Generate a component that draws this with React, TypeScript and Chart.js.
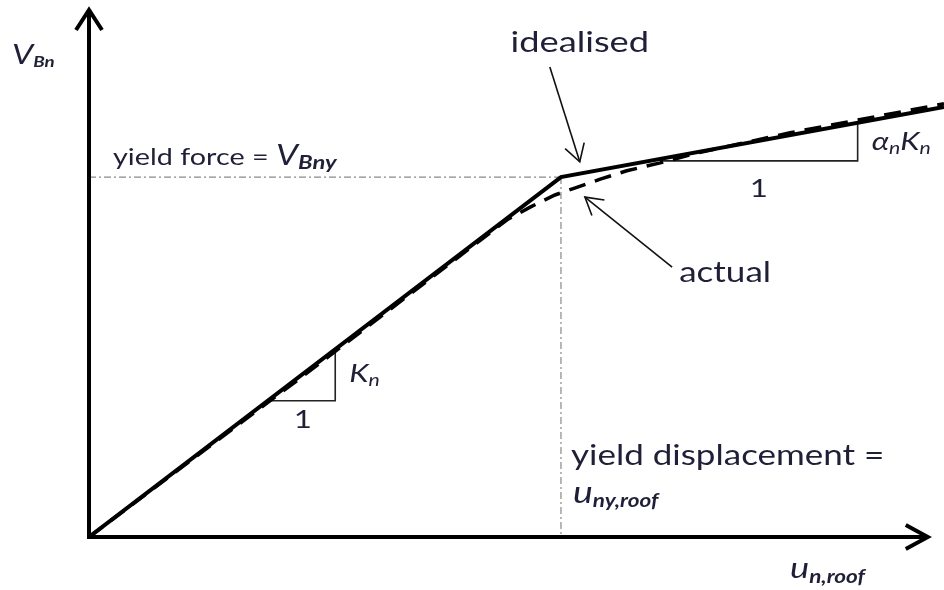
import { useEffect, useRef } from "react";
import { Chart, registerables } from "chart.js";

Chart.register(...registerables);

// Normalised roof displacement and base shear for the bilinear (idealised) curve
const idealDisp = [0, 0.552, 1.0];
const idealShear = [0, 0.683, 0.816];

// Normalised pushover curve (actual response)
const actualDisp = [0, 0.25, 0.489, 0.516, 0.545, 0.568, 0.598, 0.629, 0.668, 0.715, 0.82, 1.0];
const actualShear = [0, 0.305, 0.602, 0.626, 0.649, 0.662, 0.679, 0.695, 0.71, 0.73, 0.767, 0.822];

// Axis extents (arrow tips)
const axisEnd = { x: 0.981, y: 1.0 };

// Slope triangles: start of the horizontal leg and its run
const elasticTriangle = { x0: 0.212, run: 0.076 };
const hardeningTriangle = { x0: 0.668, run: 0.231 };

const INK = "#1f1f38";
const SANS = "Lato, 'Open Sans', sans-serif";
const STRETCH = 1.25;

type Run = { text: string; font: string; dy?: number };

function drawRuns(ctx: CanvasRenderingContext2D, x: number, y: number, runs: Run[], align: "left" | "center" = "left") {
  let total = 0;
  for (const r of runs) {
    ctx.font = r.font;
    total += ctx.measureText(r.text).width;
  }
  ctx.save();
  const start = align === "center" ? x - (total * STRETCH) / 2 : x;
  ctx.translate(start, y);
  ctx.scale(STRETCH, 1);
  ctx.textAlign = "left";
  ctx.textBaseline = "alphabetic";
  let cx = 0;
  for (const r of runs) {
    ctx.font = r.font;
    ctx.fillText(r.text, cx, r.dy || 0);
    cx += ctx.measureText(r.text).width;
  }
  ctx.restore();
}

function arrowHead(ctx: CanvasRenderingContext2D, x1: number, y1: number, x2: number, y2: number, len: number, half: number) {
  const a = Math.atan2(y2 - y1, x2 - x1);
  const bx = x2 - len * Math.cos(a);
  const by = y2 - len * Math.sin(a);
  const nx = -Math.sin(a) * half;
  const ny = Math.cos(a) * half;
  ctx.beginPath();
  ctx.moveTo(bx + nx, by + ny);
  ctx.lineTo(x2, y2);
  ctx.lineTo(bx - nx, by - ny);
  ctx.stroke();
}

function pointer(ctx: CanvasRenderingContext2D, x1: number, y1: number, x2: number, y2: number) {
  ctx.save();
  ctx.strokeStyle = "#111";
  ctx.lineWidth = 1.6;
  ctx.beginPath();
  ctx.moveTo(x1, y1);
  ctx.lineTo(x2, y2);
  ctx.stroke();
  arrowHead(ctx, x1, y1, x2, y2, 17, 10);
  ctx.restore();
}

const lineAt = (x: number) => {
  if (x <= idealDisp[1]) return (idealShear[1] / idealDisp[1]) * x;
  const k2 = (idealShear[2] - idealShear[1]) / (idealDisp[2] - idealDisp[1]);
  return idealShear[1] + k2 * (x - idealDisp[1]);
};

const diagramPlugin = {
  id: "diagram",
  beforeDatasetsDraw(chart: any) {
    const { ctx } = chart;
    const xs = chart.scales.x;
    const ys = chart.scales.y;
    const px = (v: number) => xs.getPixelForValue(v);
    const py = (v: number) => ys.getPixelForValue(v);
    const uy = idealDisp[1];
    const vy = idealShear[1];

    // yield reference lines
    ctx.save();
    ctx.strokeStyle = "#8a8a8a";
    ctx.lineWidth = 1.2;
    ctx.setLineDash([7, 3, 2, 3]);
    ctx.beginPath();
    ctx.moveTo(px(0), py(vy));
    ctx.lineTo(px(uy), py(vy));
    ctx.moveTo(px(uy), py(vy));
    ctx.lineTo(px(uy), py(0));
    ctx.stroke();
    ctx.restore();

    // slope triangles
    ctx.save();
    ctx.strokeStyle = "#222";
    ctx.lineWidth = 1.6;
    for (const t of [elasticTriangle, hardeningTriangle]) {
      const y0 = lineAt(t.x0);
      const x1 = t.x0 + t.run;
      ctx.beginPath();
      ctx.moveTo(px(t.x0), py(y0) + 2);
      ctx.lineTo(px(x1), py(y0) + 2);
      ctx.lineTo(px(x1), py(lineAt(x1)));
      ctx.stroke();
    }
    ctx.restore();
  },
  afterDatasetsDraw(chart: any) {
    const { ctx } = chart;
    const xs = chart.scales.x;
    const ys = chart.scales.y;
    const px = (v: number) => xs.getPixelForValue(v);
    const py = (v: number) => ys.getPixelForValue(v);
    const ox = px(0);
    const oy = py(0);

    // axes with arrowheads
    ctx.save();
    ctx.strokeStyle = "#000";
    ctx.lineWidth = 4;
    ctx.lineCap = "butt";
    ctx.lineJoin = "miter";
    ctx.beginPath();
    ctx.moveTo(ox, oy + 2);
    ctx.lineTo(ox, py(axisEnd.y) + 2);
    ctx.moveTo(ox - 2, oy);
    ctx.lineTo(px(axisEnd.x) - 2, oy);
    ctx.stroke();
    arrowHead(ctx, ox, oy, ox, py(axisEnd.y), 20, 13);
    arrowHead(ctx, ox, oy, px(axisEnd.x), oy, 22, 12);
    ctx.restore();

    // pointers
    pointer(ctx, px(0.539), py(0.892), px(0.574), py(0.712));
    pointer(ctx, px(0.682), py(0.512), px(0.58), py(0.645));

    ctx.save();
    ctx.fillStyle = INK;
    const plain = (s: number) => `${s}px ${SANS}`;
    const it = (s: number, w = 400) => `italic ${w} ${s}px ${SANS}`;

    // axis titles
    drawRuns(ctx, 12, 64, [
      { text: "V", font: it(27) },
      { text: "Bn", font: it(15, 700), dy: 3 },
    ]);
    drawRuns(ctx, 790, 578, [
      { text: "u", font: it(29) },
      { text: "n,roof", font: it(18, 700), dy: 5 },
    ]);

    // yield quantities
    const uy = idealDisp[1];
    const vy = idealShear[1];
    drawRuns(ctx, ox + 24, py(vy) - 12, [
      { text: "yield force = ", font: plain(23) },
      { text: "V", font: it(28) },
      { text: "Bny", font: it(19, 700), dy: 4 },
    ]);
    drawRuns(ctx, px(uy) + 10, 465, [{ text: "yield displacement =", font: plain(28) }]);
    drawRuns(ctx, px(uy) + 12, 503, [
      { text: "u", font: it(30) },
      { text: "ny,roof", font: it(18, 700), dy: 4 },
    ]);

    // curve labels
    drawRuns(ctx, px(0.574), 52, [{ text: "idealised", font: plain(29) }], "center");
    drawRuns(ctx, px(0.744), 282, [{ text: "actual", font: plain(28) }], "center");

    // stiffness labels
    const e1 = elasticTriangle.x0 + elasticTriangle.run;
    drawRuns(ctx, px(e1) + 14, 382, [
      { text: "K", font: it(25) },
      { text: "n", font: it(17), dy: 4 },
    ]);
    drawRuns(ctx, px(elasticTriangle.x0 + elasticTriangle.run / 2), 428, [{ text: "1", font: plain(25) }], "center");
    const h1 = hardeningTriangle.x0 + hardeningTriangle.run;
    drawRuns(ctx, px(h1) + 14, 150, [
      { text: "α", font: it(25) },
      { text: "n", font: it(17), dy: 4 },
      { text: "K", font: it(25) },
      { text: "n", font: it(17), dy: 4 },
    ]);
    drawRuns(ctx, px(hardeningTriangle.x0 + hardeningTriangle.run / 2), 197, [{ text: "1", font: plain(25) }], "center");
    ctx.restore();
  },
};

export default function App() {
  const ref = useRef<HTMLCanvasElement | null>(null);

  useEffect(() => {
    if (!ref.current) return;
    const chart = new Chart(ref.current, {
      type: "line",
      data: {
        datasets: [
          {
            label: "idealised",
            data: idealDisp.map((x, i) => ({ x, y: idealShear[i] })),
            borderColor: "#000",
            borderWidth: 4,
            pointRadius: 0,
            tension: 0,
            order: 1,
          },
          {
            label: "actual",
            data: actualDisp.map((x, i) => ({ x, y: actualShear[i] })),
            borderColor: "#000",
            borderWidth: 3.5,
            borderDash: [17, 10],
            pointRadius: 0,
            tension: 0,
            order: 2,
          },
        ],
      },
      options: {
        responsive: false,
        animation: false,
        events: [],
        layout: { padding: { left: 89, right: 0, top: 10, bottom: 53 } },
        scales: {
          x: { type: "linear", min: 0, max: 1, display: false },
          y: { type: "linear", min: 0, max: 1, display: false },
        },
        plugins: { legend: { display: false }, tooltip: { enabled: false } },
      },
      plugins: [diagramPlugin],
    });
    return () => chart.destroy();
  }, []);

  return (
    <div style={{ position: "absolute", left: 0, top: 0, width: 944, height: 590, background: "#fff" }}>
      <canvas ref={ref} width={944} height={590} style={{ display: "block" }} />
    </div>
  );
}
